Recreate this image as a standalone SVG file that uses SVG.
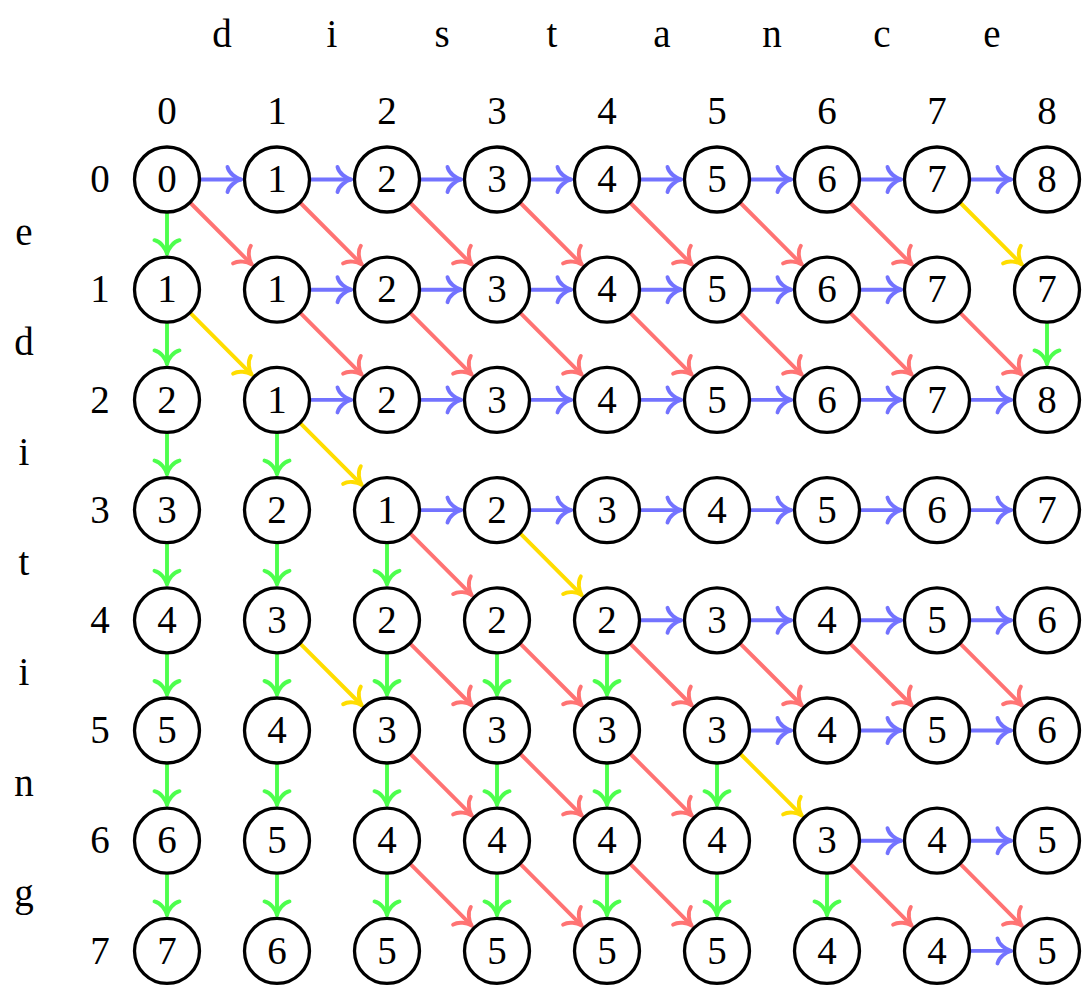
<svg xmlns="http://www.w3.org/2000/svg" width="1084" height="986" viewBox="0 0 1084 986">
<style>
text{font-family:"Liberation Serif","DejaVu Serif",serif;font-size:39px;text-anchor:middle;fill:#000}
circle{fill:#fff;stroke:#000;stroke-width:3.3}
.c path{fill:none;stroke-width:3.9;stroke-linecap:round}
.b{stroke:#7373ff;marker-end:url(#mb)}
.r{stroke:#ff7373;marker-end:url(#mr)}
.g{stroke:#4dff4d;marker-end:url(#mg)}
.y{stroke:#ffdd00;marker-end:url(#my)}
marker path{fill:none;stroke-width:3.9;stroke-linecap:round;stroke-linejoin:round}
</style>
<defs>
<marker id="mb" markerUnits="userSpaceOnUse" orient="auto" refX="0" refY="0" markerWidth="30" markerHeight="30" overflow="visible"><path d="M-13.5,-12.5 C-12,-6 -5,-1.5 0,0 C-5,1.5 -12,6 -13.5,12.5" stroke="#7373ff"/></marker>
<marker id="mr" markerUnits="userSpaceOnUse" orient="auto" refX="0" refY="0" markerWidth="30" markerHeight="30" overflow="visible"><path d="M-13.5,-12.5 C-12,-6 -5,-1.5 0,0 C-5,1.5 -12,6 -13.5,12.5" stroke="#ff7373"/></marker>
<marker id="mg" markerUnits="userSpaceOnUse" orient="auto" refX="0" refY="0" markerWidth="30" markerHeight="30" overflow="visible"><path d="M-13.5,-12.5 C-12,-6 -5,-1.5 0,0 C-5,1.5 -12,6 -13.5,12.5" stroke="#4dff4d"/></marker>
<marker id="my" markerUnits="userSpaceOnUse" orient="auto" refX="0" refY="0" markerWidth="30" markerHeight="30" overflow="visible"><path d="M-13.5,-12.5 C-12,-6 -5,-1.5 0,0 C-5,1.5 -12,6 -13.5,12.5" stroke="#ffdd00"/></marker>
</defs>

<g id="labels">
<text x="222" y="47">d</text><text x="332" y="47">i</text><text x="442" y="47">s</text><text x="552" y="47">t</text><text x="662" y="47">a</text><text x="772" y="47">n</text><text x="882" y="47">c</text><text x="992" y="47">e</text>
<text x="167" y="124">0</text><text x="277" y="124">1</text><text x="387" y="124">2</text><text x="497" y="124">3</text><text x="607" y="124">4</text><text x="717" y="124">5</text><text x="827" y="124">6</text><text x="937" y="124">7</text><text x="1047" y="124">8</text>
<text x="24" y="244.6">e</text><text x="24" y="354.8">d</text><text x="24" y="465">i</text><text x="24" y="575.2">t</text><text x="24" y="685.4">i</text><text x="24" y="795.6">n</text><text x="24" y="905.8">g</text>
<text x="100" y="192.2">0</text><text x="100" y="302.4">1</text><text x="100" y="412.6">2</text><text x="100" y="522.8">3</text><text x="100" y="633">4</text><text x="100" y="743.2">5</text><text x="100" y="853.4">6</text><text x="100" y="963.6">7</text>
</g>

<g id="connectors" class="c">
<!-- blue horizontal -->
<path class="b" d="M201,179.5H241"/><path class="b" d="M311,179.5H351"/><path class="b" d="M421,179.5H461"/><path class="b" d="M531,179.5H571"/><path class="b" d="M641,179.5H681"/><path class="b" d="M751,179.5H791"/><path class="b" d="M861,179.5H901"/><path class="b" d="M971,179.5H1011"/>
<path class="b" d="M311,289.7H351"/><path class="b" d="M421,289.7H461"/><path class="b" d="M531,289.7H571"/><path class="b" d="M641,289.7H681"/><path class="b" d="M751,289.7H791"/><path class="b" d="M861,289.7H901"/>
<path class="b" d="M311,399.9H351"/><path class="b" d="M421,399.9H461"/><path class="b" d="M531,399.9H571"/><path class="b" d="M641,399.9H681"/><path class="b" d="M751,399.9H791"/><path class="b" d="M861,399.9H901"/><path class="b" d="M971,399.9H1011"/>
<path class="b" d="M421,510.1H461"/><path class="b" d="M531,510.1H571"/><path class="b" d="M641,510.1H681"/><path class="b" d="M751,510.1H791"/><path class="b" d="M861,510.1H901"/><path class="b" d="M971,510.1H1011"/>
<path class="b" d="M641,620.3H681"/><path class="b" d="M751,620.3H791"/><path class="b" d="M861,620.3H901"/><path class="b" d="M971,620.3H1011"/>
<path class="b" d="M751,730.5H791"/><path class="b" d="M861,730.5H901"/><path class="b" d="M971,730.5H1011"/>
<path class="b" d="M861,840.7H901"/><path class="b" d="M971,840.7H1011"/>
<path class="b" d="M971,950.9H1011"/>
<!-- green vertical -->
<path class="g" d="M167,213.5V253.7"/>
<path class="g" d="M167,323.7V363.9"/><path class="g" d="M1047,323.7V363.9"/>
<path class="g" d="M167,433.9V474.1"/><path class="g" d="M277,433.9V474.1"/>
<path class="g" d="M167,544.1V584.3"/><path class="g" d="M277,544.1V584.3"/><path class="g" d="M387,544.1V584.3"/>
<path class="g" d="M167,654.3V694.5"/><path class="g" d="M277,654.3V694.5"/><path class="g" d="M387,654.3V694.5"/><path class="g" d="M497,654.3V694.5"/><path class="g" d="M607,654.3V694.5"/>
<path class="g" d="M167,764.5V804.7"/><path class="g" d="M277,764.5V804.7"/><path class="g" d="M387,764.5V804.7"/><path class="g" d="M497,764.5V804.7"/><path class="g" d="M607,764.5V804.7"/><path class="g" d="M717,764.5V804.7"/>
<path class="g" d="M167,874.7V914.9"/><path class="g" d="M277,874.7V914.9"/><path class="g" d="M387,874.7V914.9"/><path class="g" d="M497,874.7V914.9"/><path class="g" d="M607,874.7V914.9"/><path class="g" d="M717,874.7V914.9"/><path class="g" d="M827,874.7V914.9"/>
<!-- red diagonal -->
<path class="r" d="M191,203.5L251.5,264.2"/><path class="r" d="M301,203.5L361.5,264.2"/><path class="r" d="M411,203.5L471.5,264.2"/><path class="r" d="M521,203.5L581.5,264.2"/><path class="r" d="M631,203.5L691.5,264.2"/><path class="r" d="M741,203.5L801.5,264.2"/><path class="r" d="M851,203.5L911.5,264.2"/>
<path class="r" d="M301,313.7L361.5,374.4"/><path class="r" d="M411,313.7L471.5,374.4"/><path class="r" d="M521,313.7L581.5,374.4"/><path class="r" d="M631,313.7L691.5,374.4"/><path class="r" d="M741,313.7L801.5,374.4"/><path class="r" d="M851,313.7L911.5,374.4"/><path class="r" d="M961,313.7L1021.5,374.4"/>
<path class="r" d="M411,534.1L471.5,594.8"/>
<path class="r" d="M411,644.3L471.5,705"/><path class="r" d="M521,644.3L581.5,705"/><path class="r" d="M631,644.3L691.5,705"/><path class="r" d="M741,644.3L801.5,705"/><path class="r" d="M851,644.3L911.5,705"/><path class="r" d="M961,644.3L1021.5,705"/>
<path class="r" d="M411,754.5L471.5,815.2"/><path class="r" d="M521,754.5L581.5,815.2"/><path class="r" d="M631,754.5L691.5,815.2"/>
<path class="r" d="M411,864.7L471.5,925.4"/><path class="r" d="M521,864.7L581.5,925.4"/><path class="r" d="M631,864.7L691.5,925.4"/><path class="r" d="M851,864.7L911.5,925.4"/><path class="r" d="M961,864.7L1021.5,925.4"/>
<!-- yellow diagonal -->
<path class="y" d="M961,203.5L1021.5,264.2"/>
<path class="y" d="M191,313.7L251.5,374.4"/>
<path class="y" d="M301,423.9L361.5,484.6"/>
<path class="y" d="M521,534.1L581.5,594.8"/>
<path class="y" d="M301,644.3L361.5,705"/>
<path class="y" d="M741,754.5L801.5,815.2"/>
</g>

<g id="nodes">
<g id="n0-0"><circle cx="167" cy="179.5" r="32.5"/><text x="167" y="192.2">0</text></g>
<g id="n0-1"><circle cx="277" cy="179.5" r="32.5"/><text x="277" y="192.2">1</text></g>
<g id="n0-2"><circle cx="387" cy="179.5" r="32.5"/><text x="387" y="192.2">2</text></g>
<g id="n0-3"><circle cx="497" cy="179.5" r="32.5"/><text x="497" y="192.2">3</text></g>
<g id="n0-4"><circle cx="607" cy="179.5" r="32.5"/><text x="607" y="192.2">4</text></g>
<g id="n0-5"><circle cx="717" cy="179.5" r="32.5"/><text x="717" y="192.2">5</text></g>
<g id="n0-6"><circle cx="827" cy="179.5" r="32.5"/><text x="827" y="192.2">6</text></g>
<g id="n0-7"><circle cx="937" cy="179.5" r="32.5"/><text x="937" y="192.2">7</text></g>
<g id="n0-8"><circle cx="1047" cy="179.5" r="32.5"/><text x="1047" y="192.2">8</text></g>

<g id="n1-0"><circle cx="167" cy="289.7" r="32.5"/><text x="167" y="302.4">1</text></g>
<g id="n1-1"><circle cx="277" cy="289.7" r="32.5"/><text x="277" y="302.4">1</text></g>
<g id="n1-2"><circle cx="387" cy="289.7" r="32.5"/><text x="387" y="302.4">2</text></g>
<g id="n1-3"><circle cx="497" cy="289.7" r="32.5"/><text x="497" y="302.4">3</text></g>
<g id="n1-4"><circle cx="607" cy="289.7" r="32.5"/><text x="607" y="302.4">4</text></g>
<g id="n1-5"><circle cx="717" cy="289.7" r="32.5"/><text x="717" y="302.4">5</text></g>
<g id="n1-6"><circle cx="827" cy="289.7" r="32.5"/><text x="827" y="302.4">6</text></g>
<g id="n1-7"><circle cx="937" cy="289.7" r="32.5"/><text x="937" y="302.4">7</text></g>
<g id="n1-8"><circle cx="1047" cy="289.7" r="32.5"/><text x="1047" y="302.4">7</text></g>

<g id="n2-0"><circle cx="167" cy="399.9" r="32.5"/><text x="167" y="412.6">2</text></g>
<g id="n2-1"><circle cx="277" cy="399.9" r="32.5"/><text x="277" y="412.6">1</text></g>
<g id="n2-2"><circle cx="387" cy="399.9" r="32.5"/><text x="387" y="412.6">2</text></g>
<g id="n2-3"><circle cx="497" cy="399.9" r="32.5"/><text x="497" y="412.6">3</text></g>
<g id="n2-4"><circle cx="607" cy="399.9" r="32.5"/><text x="607" y="412.6">4</text></g>
<g id="n2-5"><circle cx="717" cy="399.9" r="32.5"/><text x="717" y="412.6">5</text></g>
<g id="n2-6"><circle cx="827" cy="399.9" r="32.5"/><text x="827" y="412.6">6</text></g>
<g id="n2-7"><circle cx="937" cy="399.9" r="32.5"/><text x="937" y="412.6">7</text></g>
<g id="n2-8"><circle cx="1047" cy="399.9" r="32.5"/><text x="1047" y="412.6">8</text></g>

<g id="n3-0"><circle cx="167" cy="510.1" r="32.5"/><text x="167" y="522.8">3</text></g>
<g id="n3-1"><circle cx="277" cy="510.1" r="32.5"/><text x="277" y="522.8">2</text></g>
<g id="n3-2"><circle cx="387" cy="510.1" r="32.5"/><text x="387" y="522.8">1</text></g>
<g id="n3-3"><circle cx="497" cy="510.1" r="32.5"/><text x="497" y="522.8">2</text></g>
<g id="n3-4"><circle cx="607" cy="510.1" r="32.5"/><text x="607" y="522.8">3</text></g>
<g id="n3-5"><circle cx="717" cy="510.1" r="32.5"/><text x="717" y="522.8">4</text></g>
<g id="n3-6"><circle cx="827" cy="510.1" r="32.5"/><text x="827" y="522.8">5</text></g>
<g id="n3-7"><circle cx="937" cy="510.1" r="32.5"/><text x="937" y="522.8">6</text></g>
<g id="n3-8"><circle cx="1047" cy="510.1" r="32.5"/><text x="1047" y="522.8">7</text></g>

<g id="n4-0"><circle cx="167" cy="620.3" r="32.5"/><text x="167" y="633">4</text></g>
<g id="n4-1"><circle cx="277" cy="620.3" r="32.5"/><text x="277" y="633">3</text></g>
<g id="n4-2"><circle cx="387" cy="620.3" r="32.5"/><text x="387" y="633">2</text></g>
<g id="n4-3"><circle cx="497" cy="620.3" r="32.5"/><text x="497" y="633">2</text></g>
<g id="n4-4"><circle cx="607" cy="620.3" r="32.5"/><text x="607" y="633">2</text></g>
<g id="n4-5"><circle cx="717" cy="620.3" r="32.5"/><text x="717" y="633">3</text></g>
<g id="n4-6"><circle cx="827" cy="620.3" r="32.5"/><text x="827" y="633">4</text></g>
<g id="n4-7"><circle cx="937" cy="620.3" r="32.5"/><text x="937" y="633">5</text></g>
<g id="n4-8"><circle cx="1047" cy="620.3" r="32.5"/><text x="1047" y="633">6</text></g>

<g id="n5-0"><circle cx="167" cy="730.5" r="32.5"/><text x="167" y="743.2">5</text></g>
<g id="n5-1"><circle cx="277" cy="730.5" r="32.5"/><text x="277" y="743.2">4</text></g>
<g id="n5-2"><circle cx="387" cy="730.5" r="32.5"/><text x="387" y="743.2">3</text></g>
<g id="n5-3"><circle cx="497" cy="730.5" r="32.5"/><text x="497" y="743.2">3</text></g>
<g id="n5-4"><circle cx="607" cy="730.5" r="32.5"/><text x="607" y="743.2">3</text></g>
<g id="n5-5"><circle cx="717" cy="730.5" r="32.5"/><text x="717" y="743.2">3</text></g>
<g id="n5-6"><circle cx="827" cy="730.5" r="32.5"/><text x="827" y="743.2">4</text></g>
<g id="n5-7"><circle cx="937" cy="730.5" r="32.5"/><text x="937" y="743.2">5</text></g>
<g id="n5-8"><circle cx="1047" cy="730.5" r="32.5"/><text x="1047" y="743.2">6</text></g>

<g id="n6-0"><circle cx="167" cy="840.7" r="32.5"/><text x="167" y="853.4">6</text></g>
<g id="n6-1"><circle cx="277" cy="840.7" r="32.5"/><text x="277" y="853.4">5</text></g>
<g id="n6-2"><circle cx="387" cy="840.7" r="32.5"/><text x="387" y="853.4">4</text></g>
<g id="n6-3"><circle cx="497" cy="840.7" r="32.5"/><text x="497" y="853.4">4</text></g>
<g id="n6-4"><circle cx="607" cy="840.7" r="32.5"/><text x="607" y="853.4">4</text></g>
<g id="n6-5"><circle cx="717" cy="840.7" r="32.5"/><text x="717" y="853.4">4</text></g>
<g id="n6-6"><circle cx="827" cy="840.7" r="32.5"/><text x="827" y="853.4">3</text></g>
<g id="n6-7"><circle cx="937" cy="840.7" r="32.5"/><text x="937" y="853.4">4</text></g>
<g id="n6-8"><circle cx="1047" cy="840.7" r="32.5"/><text x="1047" y="853.4">5</text></g>

<g id="n7-0"><circle cx="167" cy="950.9" r="32.5"/><text x="167" y="963.6">7</text></g>
<g id="n7-1"><circle cx="277" cy="950.9" r="32.5"/><text x="277" y="963.6">6</text></g>
<g id="n7-2"><circle cx="387" cy="950.9" r="32.5"/><text x="387" y="963.6">5</text></g>
<g id="n7-3"><circle cx="497" cy="950.9" r="32.5"/><text x="497" y="963.6">5</text></g>
<g id="n7-4"><circle cx="607" cy="950.9" r="32.5"/><text x="607" y="963.6">5</text></g>
<g id="n7-5"><circle cx="717" cy="950.9" r="32.5"/><text x="717" y="963.6">5</text></g>
<g id="n7-6"><circle cx="827" cy="950.9" r="32.5"/><text x="827" y="963.6">4</text></g>
<g id="n7-7"><circle cx="937" cy="950.9" r="32.5"/><text x="937" y="963.6">4</text></g>
<g id="n7-8"><circle cx="1047" cy="950.9" r="32.5"/><text x="1047" y="963.6">5</text></g>
</g>
</svg>
